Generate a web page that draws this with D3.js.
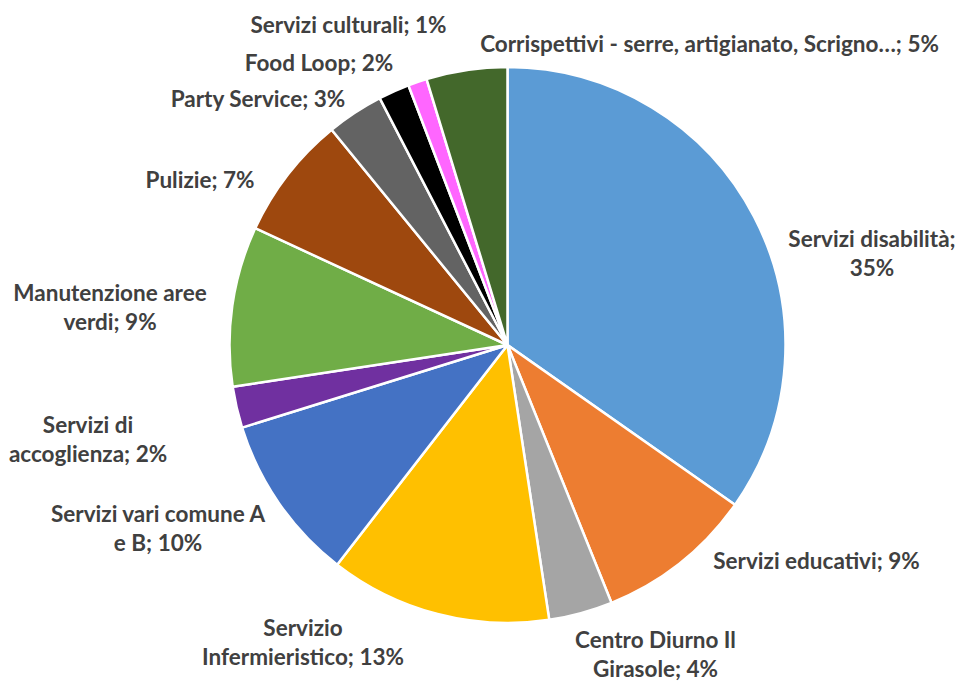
<!DOCTYPE html>
<html>
<head>
<meta charset="utf-8">
<script src="https://cdn.jsdelivr.net/npm/d3@7"></script>
<style>
  html, body { margin: 0; padding: 0; background: #fff; }
  svg { display: block; }
</style>
</head>
<body>
<svg id="chart"></svg>
<script>
// data
const categories = [
  "Servizi disabilità",
  "Servizi educativi",
  "Centro Diurno Il Girasole",
  "Servizio Infermieristico",
  "Servizi vari comune A e B",
  "Servizi di accoglienza",
  "Manutenzione aree verdi",
  "Pulizie",
  "Party Service",
  "Food Loop",
  "Servizi culturali",
  "Corrispettivi - serre, artigianato, Scrigno…",
];
const values = [34.75, 9.15, 3.7, 12.9, 9.7, 2.4, 9.3, 7.2, 3.3, 1.8, 1.1, 4.7];
const colors = [
  "#5B9BD5", "#ED7D31", "#A5A5A5", "#FFC000", "#4472C4", "#7030A0",
  "#70AD47", "#9E480E", "#636363", "#000000", "#FF66FF", "#43682B",
];
// words kept on the first line of a wrapped label (0 = single line)
const wrapAfter = [2, 0, 3, 1, 4, 2, 2, 0, 0, 0, 0, 0];

// layout
const width = 958,
  height = 681;
const cx = 507.5,
  cy = 345,
  radius = 278;
const lineHeight = 28.7;
// label anchor (centre x, first baseline) relative to the pie centre
const labelOffsets = [
  [364.5, -98], [309, 224], [148, 303], [-204.5, 291],
  [-349.5, 177], [-419.5, 88], [-397.5, -44], [-307.5, -157],
  [-249.5, -238], [-188.5, -274], [-159, -312], [202, -293],
];

const svg = d3.select("#chart").attr("width", width).attr("height", height);

const total = d3.sum(values);
const data = categories.map((c, i) => ({
  name: c,
  value: values[i],
  pct: Math.round((values[i] / total) * 100),
  color: colors[i],
  wrap: wrapAfter[i],
  offset: labelOffsets[i],
}));

const pie = d3.pie().value((d) => d.value).sort(null);
const arc = d3.arc().innerRadius(0).outerRadius(radius);

const g = svg.append("g").attr("transform", `translate(${cx},${cy})`);

g.selectAll("path")
  .data(pie(data))
  .join("path")
  .attr("d", arc)
  .attr("fill", (d) => d.data.color)
  .attr("stroke", "#fff")
  .attr("stroke-width", 2.5)
  .attr("stroke-linejoin", "round");

// data labels
const labels = g
  .append("g")
  .attr("font-family", "Lato, 'Open Sans', sans-serif")
  .attr("font-weight", "bold")
  .attr("font-size", 22.5)
  .attr("fill", "#404040")
  .attr("text-anchor", "middle")
  .selectAll("text")
  .data(data)
  .join("text")
  .attr("x", (d) => d.offset[0])
  .attr("y", (d) => d.offset[1]);

labels.each(function (d) {
  const words = `${d.name}; ${d.pct}%`.split(" ");
  const lines = d.wrap
    ? [words.slice(0, d.wrap).join(" "), words.slice(d.wrap).join(" ")]
    : [words.join(" ")];
  d3.select(this)
    .selectAll("tspan")
    .data(lines)
    .join("tspan")
    .attr("x", d.offset[0])
    .attr("dy", (l, i) => (i === 0 ? 0 : lineHeight))
    .text((l) => l);
});
</script>
</body>
</html>
